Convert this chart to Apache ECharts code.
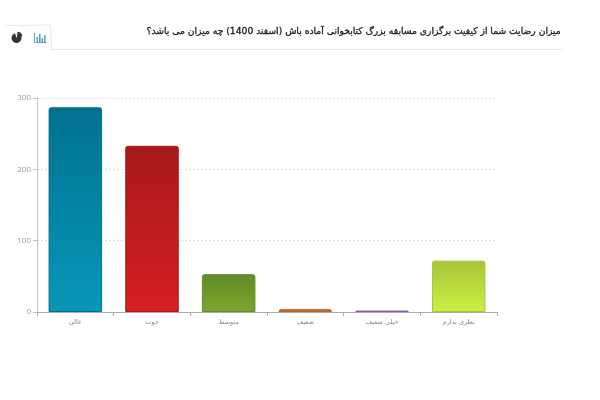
<!DOCTYPE html>
<html><head><meta charset="utf-8">
<style>html,body{margin:0;padding:0;background:#fff}#c{width:600px;height:400px}</style>
<script src="https://cdn.jsdelivr.net/npm/echarts@6/dist/echarts.min.js"></script></head>
<body><div id="c"></div>
<script>
const titleText = 'میزان رضایت شما از کیفیت برگزاری مسابقه بزرگ کتابخوانی آماده باش (اسفند 1400) چه میزان می باشد؟';
const categories = ['عالی','خوب','متوسط','ضعیف','خیلی ضعیف','نظری ندارم'];
const values = [287,233,53,4,2,72];
const topColors = ['#02718f','#a8191b','#628a28','#b5642a','#8a55b4','#a6c436'];
const bottomColors = ['#0697b9','#d61f21','#7ba62c','#d07a35','#8a55b4','#cdf044'];
const borderColors = ['#02708c','#a8191b','#628a28','#b5642a','#8a55b4','#a6c43c'];
const FONT = 'DejaVu Sans, sans-serif';
const chart = echarts.init(document.getElementById('c'), null, {renderer:'canvas'});
const barData = values.map((v,i)=>({value:v,itemStyle:{
  color:new echarts.graphic.LinearGradient(0,0,0,1,[{offset:0,color:topColors[i]},{offset:1,color:bottomColors[i]}]),
  borderColor:borderColors[i],borderWidth:1,borderRadius:[2,2,0,0]}}));
chart.setOption({
  animation:false,
  backgroundColor:'#fff',
  title:{text:titleText,right:34,top:22.5,textStyle:{fontFamily:FONT,fontSize:9.2,fontWeight:'normal',color:'#1a1a1a',textBorderColor:'#1a1a1a',textBorderWidth:0.3}},
  grid:{left:37,right:103,top:98,bottom:88,containLabel:false},
  xAxis:{type:'category',data:categories,
    axisLine:{lineStyle:{color:'#aaa',width:1}},
    axisTick:{show:true,length:4,alignWithLabel:false,lineStyle:{color:'#aaa'}},
    axisLabel:{fontFamily:FONT,fontSize:6.5,color:'#888',margin:7}},
  yAxis:{type:'value',min:0,max:300,interval:100,
    axisLine:{show:true,lineStyle:{color:'#c4c4c4',width:1}},
    axisTick:{show:true,length:4,lineStyle:{color:'#c4c4c4'}},
    axisLabel:{fontFamily:'Open Sans, sans-serif',fontSize:8,color:'#999',margin:6},
    splitLine:{lineStyle:{type:[2,2],color:'#ddd',width:1}}},
  series:[{type:'bar',data:barData,barWidth:53.5}],
  graphic:[
    {type:'polyline',shape:{points:[[5,25.5],[50.5,25],[51.5,49.5],[563,49.5]]},style:{stroke:'#e8e8e8',fill:null,lineWidth:1},silent:true},
    {type:'sector',shape:{cx:16.5,cy:38,r:5,r0:0,startAngle:-Math.PI/2+0.25,endAngle:Math.PI*1.5-0.3},style:{fill:'#333'}},
    {type:'sector',shape:{cx:17.5,cy:36.5,r:4.8,r0:0,startAngle:-Math.PI/2,endAngle:0},style:{fill:'#333'}},
    {type:'polyline',shape:{points:[[34.5,33],[34.5,42.5],[46.5,42.5]]},style:{stroke:'#5aa8c8',fill:null,lineWidth:1}},
    {type:'rect',shape:{x:36.5,y:37,width:1.6,height:5},style:{fill:'#5aa8c8'}},
    {type:'rect',shape:{x:39,y:34,width:1.6,height:8},style:{fill:'#5aa8c8'}},
    {type:'rect',shape:{x:41.5,y:38,width:1.6,height:4},style:{fill:'#5aa8c8'}},
    {type:'rect',shape:{x:44,y:35,width:1.6,height:7},style:{fill:'#5aa8c8'}}
  ]
});
</script></body></html>
